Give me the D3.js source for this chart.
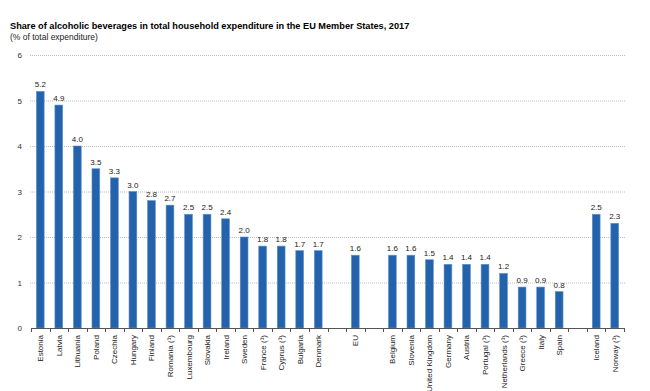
<!DOCTYPE html>
<html>
<head>
<meta charset="utf-8">
<script src="https://cdn.jsdelivr.net/npm/d3@7"></script>
<style>
  body { margin: 0; background: #fff; }
  text { font-family: "Liberation Sans", Arial, sans-serif; }
</style>
</head>
<body>
<div class="canvas"></div>
<script>
// data ("" marks the blank slots between groups)
const countries = ['Estonia', 'Latvia', 'Lithuania', 'Poland', 'Czechia', 'Hungary', 'Finland',
    'Romania (¹)', 'Luxembourg', 'Slovakia', 'Ireland', 'Sweden', 'France (¹)', 'Cyprus (¹)',
    'Bulgaria', 'Denmark', '', 'EU', '', 'Belgium', 'Slovenia', 'United Kingdom', 'Germany',
    'Austria', 'Portugal (¹)', 'Netherlands (¹)', 'Greece (¹)', 'Italy', 'Spain', '',
    'Iceland', 'Norway (¹)'];
const shares = [5.2, 4.9, 4.0, 3.5, 3.3, 3.0, 2.8, 2.7, 2.5, 2.5, 2.4, 2.0, 1.8, 1.8, 1.7, 1.7,
    null, 1.6, null, 1.6, 1.6, 1.5, 1.4, 1.4, 1.4, 1.2, 0.9, 0.9, 0.8, null, 2.5, 2.3];
const yTicks = [0, 1, 2, 3, 4, 5, 6];

const data = countries.map((c, i) => ({key: 'k' + i, name: c, value: shares[i]}));

const width = 650, height = 391;
const margin = {top: 55, right: 26, bottom: 63, left: 31};
const graphWidth = width - margin.left - margin.right;
const graphHeight = height - margin.top - margin.bottom;

const svg = d3.select('.canvas')
    .append('svg')
        .attr('width', width)
        .attr('height', height);

svg.append('text')
    .attr('x', 10).attr('y', 29)
    .attr('font-size', 9.2).attr('font-weight', 'bold').attr('fill', '#000')
    .text('Share of alcoholic beverages in total household expenditure in the EU Member States, 2017');
svg.append('text')
    .attr('x', 10).attr('y', 40)
    .attr('font-size', 8.5).attr('fill', '#222')
    .text('(% of total expenditure)');

const graph = svg.append('g')
    .attr('transform', `translate(${margin.left},${margin.top})`);

const x = d3.scaleBand()
    .domain(data.map(d => d.key))
    .range([0, graphWidth])
    .paddingInner(0.58)
    .paddingOuter(0.29);

const y = d3.scaleLinear()
    .domain([0, 6])
    .range([graphHeight, 0]);

// dotted grid
graph.append('g')
    .selectAll('line')
    .data(yTicks.filter(t => t > 0))
    .enter()
    .append('line')
    .attr('x1', -1).attr('x2', graphWidth + 1)
    .attr('y1', d => y(d) + 0.5).attr('y2', d => y(d) + 0.5)
    .attr('stroke', '#bcbcbc')
    .attr('stroke-width', 1)
    .attr('stroke-dasharray', '1,1');

// y labels
graph.append('g')
    .selectAll('text')
    .data(yTicks)
    .enter()
    .append('text')
    .attr('x', -9).attr('y', d => y(d) + 3)
    .attr('text-anchor', 'end')
    .attr('font-size', 8).attr('fill', '#333')
    .text(d => d);

const bars = data.filter(d => d.value !== null);

graph.selectAll('rect')
    .data(bars)
    .enter()
    .append('rect')
    .attr('x', d => x(d.key))
    .attr('y', d => y(d.value))
    .attr('width', x.bandwidth())
    .attr('height', d => graphHeight - y(d.value))
    .attr('fill', '#2463ab')
    .attr('stroke', '#5a92cf')
    .attr('stroke-width', 0.6);

graph.append('g')
    .selectAll('text')
    .data(bars)
    .enter()
    .append('text')
    .attr('x', d => x(d.key) + x.bandwidth() / 2)
    .attr('y', d => y(d.value) - 4)
    .attr('text-anchor', 'middle')
    .attr('font-size', 8).attr('fill', '#222')
    .text(d => d.value.toFixed(1));

// x axis: line, ticks at the slot boundaries, rotated labels
const step = x.step();
const xAxisGroup = graph.append('g')
    .attr('transform', `translate(0, ${graphHeight})`);

xAxisGroup.append('line')
    .attr('x1', 0).attr('x2', graphWidth)
    .attr('y1', 0.5).attr('y2', 0.5)
    .attr('stroke', '#555');

xAxisGroup.selectAll('line.tick')
    .data(d3.range(countries.length + 1))
    .enter()
    .append('line')
    .attr('class', 'tick')
    .attr('x1', i => Math.round(i * step) + 0.5).attr('x2', i => Math.round(i * step) + 0.5)
    .attr('y1', 0).attr('y2', 4)
    .attr('stroke', '#555');

xAxisGroup.selectAll('text')
    .data(data)
    .enter()
    .append('text')
    .attr('transform', d => `translate(${x(d.key) + x.bandwidth() / 2 + 3},7) rotate(-90)`)
    .attr('text-anchor', 'end')
    .attr('font-size', 8).attr('fill', '#222')
    .text(d => d.name);
</script>
</body>
</html>
